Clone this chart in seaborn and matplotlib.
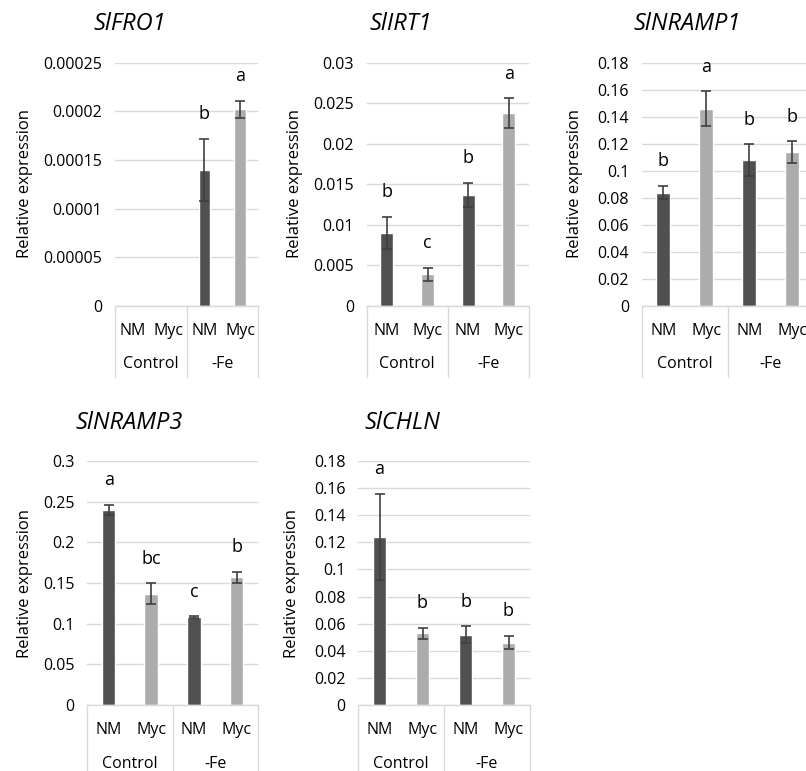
import numpy as np
import pandas as pd
import matplotlib
matplotlib.use("Agg")
import matplotlib.pyplot as plt
import matplotlib.transforms as mtransforms
import seaborn as sns

# ---- data -------------------------------------------------------------
conditions = ["Control", "Control", "-Fe", "-Fe"]
inoculation = ["NM", "Myc", "NM", "Myc"]

genes = ["SlFRO1", "SlIRT1", "SlNRAMP1", "SlNRAMP3", "SlCHLN"]

fro1_mean = [0.0, 0.0, 0.000140, 0.000202]
fro1_se = [0.0, 0.0, 0.000032, 0.000009]
fro1_letters = ["", "", "b", "a"]

irt1_mean = [0.0090, 0.0039, 0.0137, 0.0238]
irt1_se = [0.0020, 0.0008, 0.0015, 0.0018]
irt1_letters = ["b", "c", "b", "a"]

nramp1_mean = [0.084, 0.146, 0.108, 0.114]
nramp1_se = [0.005, 0.013, 0.012, 0.008]
nramp1_letters = ["b", "a", "b", "b"]

nramp3_mean = [0.240, 0.137, 0.108, 0.157]
nramp3_se = [0.006, 0.013, 0.001, 0.007]
nramp3_letters = ["a", "bc", "c", "b"]

chln_mean = [0.124, 0.053, 0.052, 0.046]
chln_se = [0.032, 0.004, 0.006, 0.005]
chln_letters = ["a", "b", "b", "b"]

# y-axis tick ranges (max, step)
y_max = [0.00025, 0.03, 0.18, 0.3, 0.18]
y_step = [0.00005, 0.005, 0.02, 0.05, 0.02]

means = [fro1_mean, irt1_mean, nramp1_mean, nramp3_mean, chln_mean]
errors = [fro1_se, irt1_se, nramp1_se, nramp3_se, chln_se]
letters = [fro1_letters, irt1_letters, nramp1_letters, nramp3_letters, chln_letters]

# ---- layout (pixels) ----------------------------------------------------
W, H = 806, 771
# plot area: left, right, top, bottom
boxes = [
    (115.0, 258.0, 62.7, 306.0),
    (366.7, 529.0, 62.7, 306.0),
    (641.7, 813.7, 63.0, 306.0),
    (87.3, 258.0, 461.0, 705.0),
    (358.0, 530.0, 461.0, 705.0),
]
title_pos = [(130, 24), (401, 24), (687, 24), (129, 423), (402, 423)]
ylabel_pos = [(25, 184), (295, 184), (575, 184), (25, 583), (292, 583)]

NM_COLOR = "#505050"
MYC_COLOR = "#aeaaaa"
GRID = "#d9d9d9"
ERR = "#3f3f3f"

FS_TICK = 11.5
FS_LABEL = 12
FS_TITLE = 17
FS_LETTER = 13

sns.set_theme(style="white")
plt.rcParams["font.family"] = ["Open Sans", "DejaVu Sans"]

fig = plt.figure(figsize=(W / 100, H / 100), dpi=100)


def fmt_tick(v):
    return np.format_float_positional(round(v, 10), trim="-")


for i, gene in enumerate(genes):
    l, r, t, b = boxes[i]
    ax = fig.add_axes([l / W, 1 - b / H, (r - l) / W, (b - t) / H])
    ax_h = b - t

    keys = [f"{c} {n}" for c, n in zip(conditions, inoculation)]
    df = pd.DataFrame({"key": keys, "inoc": inoculation,
                       "cond": conditions, "mean": means[i], "se": errors[i]})

    ax.set_axisbelow(True)
    sns.barplot(data=df, x="key", y="mean", hue="inoc", order=keys,
                palette={"NM": NM_COLOR, "Myc": MYC_COLOR}, dodge=False,
                width=0.32, errorbar=None, legend=False, ax=ax, zorder=2)

    xs = np.arange(len(keys))
    has_err = df["se"].to_numpy() > 0
    ax.errorbar(xs[has_err], df["mean"][has_err], yerr=df["se"][has_err],
                fmt="none", ecolor=ERR, elinewidth=1.2, capsize=3.8,
                capthick=1.2, zorder=3)

    # significance letters
    for x, m, e, lt in zip(xs, df["mean"], df["se"], letters[i]):
        if lt:
            ax.annotate(lt, (x, m + e), xytext=(0, 14),
                        textcoords="offset points", ha="center",
                        va="baseline", fontsize=FS_LETTER, color="#000000")

    ticks = np.arange(0, y_max[i] + y_step[i] / 2, y_step[i])
    ax.set_ylim(0, y_max[i])
    ax.set_yticks(ticks, [fmt_tick(v) for v in ticks])
    ax.set_xlim(-0.5, 3.5)
    ax.yaxis.grid(True, color=GRID, linewidth=1.0)
    ax.xaxis.grid(False)
    for s in ["left", "right", "top"]:
        ax.spines[s].set_visible(False)
    ax.spines["bottom"].set_color(GRID)
    ax.spines["bottom"].set_linewidth(1.0)
    ax.spines["bottom"].set_zorder(4)

    ax.set_xticks(xs, inoculation)
    ax.tick_params(axis="x", length=0, pad=12.5, labelsize=FS_TICK, labelcolor="#000000")
    ax.tick_params(axis="y", length=0, pad=9, labelsize=FS_TICK, labelcolor="#000000")
    ax.set_xlabel("")
    ax.set_ylabel("")

    # two-level category axis: group dividers and group names
    trans = mtransforms.blended_transform_factory(ax.transData, ax.transAxes)
    depth = -71.0 / ax_h
    for xv in [-0.5, 1.5, 3.5]:
        ax.plot([xv, xv], [0, depth], transform=trans, color=GRID,
                linewidth=1.0, clip_on=False, zorder=1)
    groups = list(dict.fromkeys(conditions))
    for g in groups:
        idx = [k for k, c in enumerate(conditions) if c == g]
        ax.text(np.mean(idx), -58.5 / ax_h, g, transform=trans, ha="center",
                va="center", fontsize=FS_TICK, color="#000000")

    tx, ty = title_pos[i]
    fig.text(tx / W, 1 - ty / H, gene, ha="center", va="center",
             fontsize=FS_TITLE, style="italic", color="#000000")
    lx, ly = ylabel_pos[i]
    fig.text(lx / W, 1 - ly / H, "Relative expression", ha="center",
             va="center", rotation=90, fontsize=FS_LABEL, color="#000000")

fig.savefig("out.png", dpi=100)
